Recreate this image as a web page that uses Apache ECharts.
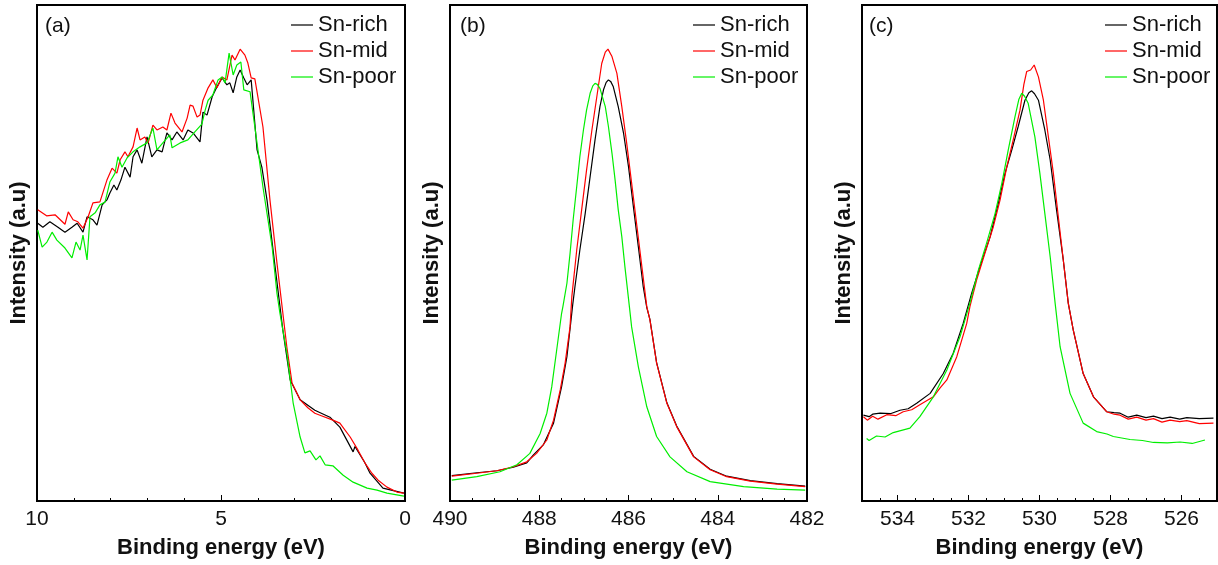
<!DOCTYPE html>
<html>
<head>
<meta charset="utf-8">
<script src="https://cdn.jsdelivr.net/npm/echarts@6/dist/echarts.min.js"></script>
<style>
html,body{margin:0;padding:0;background:#fff;}
#chart{width:1218px;height:565px;}
</style>
</head>
<body>
<div id="chart"></div>
<script>
// ---------- Data ----------
const seriesNames = ['Sn-rich', 'Sn-mid', 'Sn-poor'];
const panelLabels = ['(a)', '(b)', '(c)'];
const xAxisTitle = 'Binding energy (eV)';
const yAxisTitle = 'Intensity (a.u)';

// Panel (a): valence band, [binding energy eV, intensity a.u.]
const aSnRich = [[9.98,56.0],[9.84,55.2],[9.65,56.3],[9.43,55.2],[9.24,54.2],[9.05,55.2],[8.91,56.0],[8.75,54.2],[8.64,57.3],[8.48,56.7],[8.37,55.6],[8.23,59.7],[8.10,60.7],[8.02,62.1],[7.91,63.7],[7.83,62.7],[7.72,64.7],[7.61,67.3],[7.47,65.3],[7.39,69.4],[7.28,70.8],[7.15,68.1],[7.01,73.4],[6.88,69.4],[6.74,70.8],[6.60,70.4],[6.47,74.2],[6.33,72.8],[6.20,74.4],[6.03,72.8],[5.90,74.8],[5.76,74.2],[5.57,72.4],[5.49,78.4],[5.38,77.8],[5.24,81.5],[5.11,83.5],[4.97,85.3],[4.84,83.9],[4.76,84.3],[4.67,82.3],[4.57,85.5],[4.48,86.9],[4.38,85.3],[4.29,83.9],[4.18,84.9],[4.02,70.8],[3.89,67.3],[3.75,60.7],[3.53,47.2],[3.32,34.5],[3.12,24.4],[2.85,20.4],[2.45,18.3],[2.04,16.9],[1.77,14.9],[1.41,9.9],[1.36,11.0],[1.09,7.7],[0.95,5.6],[0.60,2.6],[0.03,1.6]];
const aSnMid = [[9.98,58.7],[9.74,57.5],[9.51,57.7],[9.24,55.8],[9.15,58.3],[9.02,56.7],[8.89,56.3],[8.75,55.0],[8.61,57.3],[8.48,60.1],[8.29,60.3],[8.10,64.7],[7.96,67.1],[7.83,66.1],[7.74,68.8],[7.61,70.4],[7.53,69.4],[7.39,71.4],[7.28,75.2],[7.20,72.8],[7.07,73.4],[6.98,72.2],[6.85,75.8],[6.74,74.8],[6.58,75.4],[6.47,74.8],[6.36,78.2],[6.25,76.2],[6.06,74.4],[5.92,77.2],[5.84,79.8],[5.76,79.6],[5.65,77.4],[5.57,77.8],[5.49,80.8],[5.35,83.3],[5.22,84.9],[5.11,83.3],[4.97,85.5],[4.84,84.9],[4.70,89.9],[4.62,88.9],[4.48,91.1],[4.35,89.9],[4.27,88.3],[4.18,85.3],[4.08,85.1],[3.86,75.4],[3.67,60.7],[3.48,48.0],[3.21,31.0],[3.07,23.8],[2.85,20.4],[2.64,18.8],[2.45,17.7],[2.31,17.3],[1.96,16.3],[1.77,15.7],[1.49,12.9],[1.28,10.3],[1.09,7.7],[0.90,5.6],[0.73,4.2],[0.49,2.8],[0.22,1.8],[0.03,1.6]];
const aSnPoor = [[9.98,54.6],[9.86,51.2],[9.73,52.2],[9.59,54.2],[9.46,52.6],[9.24,51.0],[9.05,49.0],[8.94,52.2],[8.83,50.6],[8.75,53.6],[8.64,48.6],[8.56,57.3],[8.42,58.1],[8.29,59.7],[8.15,60.3],[8.02,64.3],[7.88,66.1],[7.80,69.4],[7.69,67.3],[7.55,69.2],[7.39,70.4],[7.20,71.4],[7.01,72.2],[6.85,75.2],[6.74,70.8],[6.58,72.2],[6.39,73.8],[6.33,71.2],[6.11,72.2],[5.90,72.8],[5.71,74.4],[5.52,76.0],[5.43,78.8],[5.35,80.8],[5.22,81.9],[5.08,84.9],[4.97,85.5],[4.89,84.3],[4.78,90.3],[4.67,85.9],[4.57,87.9],[4.46,88.5],[4.38,82.9],[4.21,82.5],[4.08,75.4],[3.86,63.3],[3.61,51.2],[3.48,41.9],[3.40,37.9],[3.21,29.8],[3.04,19.8],[2.85,12.9],[2.72,9.7],[2.58,10.1],[2.42,8.3],[2.31,9.1],[2.17,7.3],[1.96,7.1],[1.68,5.2],[1.41,3.8],[1.03,2.6],[0.76,2.2],[0.49,1.6],[0.03,1.0]];

// Panel (b): Sn 3d5/2
const bSnRich = [[489.96,5.1],[489.40,5.7],[488.95,6.1],[488.58,6.8],[488.28,7.7],[488.13,9.3],[487.91,11.3],[487.68,15.7],[487.50,23.0],[487.38,29.1],[487.30,35.5],[487.25,39.6],[487.20,43.2],[487.09,50.6],[486.97,58.0],[486.86,65.4],[486.75,72.8],[486.64,79.5],[486.56,82.9],[486.50,84.4],[486.45,84.9],[486.40,84.6],[486.34,83.5],[486.23,79.5],[486.11,74.1],[486.00,67.4],[485.89,59.3],[485.78,51.3],[485.67,43.2],[485.59,39.0],[485.52,36.6],[485.37,27.9],[485.14,19.8],[484.92,15.1],[484.54,9.0],[484.17,6.4],[483.80,5.0],[483.27,4.1],[482.67,3.5],[482.04,3.0]];
const bSnMid = [[489.96,5.0],[489.40,5.6],[488.95,6.1],[488.58,6.9],[488.28,7.9],[488.06,9.6],[487.83,12.3],[487.68,16.3],[487.53,22.4],[487.42,27.8],[487.31,35.1],[487.27,41.2],[487.16,50.6],[487.05,58.7],[486.94,66.7],[486.82,74.8],[486.71,81.5],[486.60,88.2],[486.52,90.5],[486.46,91.1],[486.37,89.6],[486.26,86.2],[486.15,79.5],[486.04,72.1],[485.93,64.1],[485.81,55.3],[485.70,47.2],[485.59,39.2],[485.52,36.5],[485.37,27.8],[485.14,19.7],[484.92,15.0],[484.54,8.9],[484.17,6.3],[483.80,4.9],[483.27,4.0],[482.67,3.4],[482.04,2.9]];
const bSnPoor = [[489.96,4.2],[489.40,4.9],[488.88,5.9],[488.50,7.3],[488.21,9.6],[487.98,13.6],[487.83,17.7],[487.72,23.0],[487.61,30.4],[487.50,37.8],[487.47,39.2],[487.38,43.9],[487.31,49.9],[487.24,56.7],[487.16,63.4],[487.09,69.4],[487.01,74.8],[486.94,78.8],[486.86,82.2],[486.80,83.7],[486.75,84.2],[486.70,84.0],[486.64,83.2],[486.52,79.5],[486.45,75.5],[486.37,70.1],[486.30,64.7],[486.23,58.7],[486.15,53.3],[486.08,47.2],[485.98,39.2],[485.93,35.1],[485.78,27.1],[485.59,19.0],[485.37,13.0],[485.07,8.9],[484.69,5.9],[484.17,3.9],[483.42,2.9],[482.67,2.4],[482.04,2.2]];

// Panel (c): O 1s
const cSnRich = [[534.96,17.3],[534.80,17.0],[534.70,17.5],[534.49,17.7],[534.20,17.6],[533.93,18.3],[533.70,18.6],[533.46,19.7],[533.08,21.7],[532.71,25.7],[532.43,29.8],[532.15,35.8],[531.91,41.9],[531.68,47.2],[531.39,53.3],[531.16,60.0],[530.97,66.1],[530.78,70.8],[530.60,75.5],[530.41,80.8],[530.30,82.3],[530.22,82.7],[530.14,82.1],[530.03,80.8],[529.85,74.8],[529.70,68.8],[529.52,58.7],[529.33,48.6],[529.19,39.9],[529.05,34.5],[528.77,25.7],[528.48,21.0],[528.11,18.0],[527.90,17.8],[527.73,17.7],[527.50,16.9],[527.26,17.3],[527.00,16.8],[526.79,17.1],[526.55,16.6],[526.32,16.9],[526.05,16.5],[525.85,16.8],[525.50,16.6],[525.10,16.7]];
const cSnMid = [[534.96,17.0],[534.85,16.3],[534.70,17.1],[534.55,16.5],[534.30,17.4],[534.05,17.2],[533.84,18.0],[533.60,18.4],[533.37,19.4],[532.99,21.0],[532.80,22.8],[532.61,24.4],[532.33,29.1],[532.05,35.8],[531.96,39.2],[531.77,44.6],[531.54,49.9],[531.30,55.3],[531.11,60.7],[530.92,67.4],[530.74,72.8],[530.55,78.8],[530.44,84.0],[530.36,86.6],[530.25,86.9],[530.15,87.9],[530.03,85.5],[529.89,80.8],[529.75,73.4],[529.61,66.1],[529.47,57.3],[529.33,48.6],[529.19,39.9],[529.05,34.5],[528.77,25.7],[528.48,21.0],[528.11,18.0],[527.90,17.5],[527.73,17.3],[527.50,16.5],[527.26,16.9],[527.00,16.3],[526.79,16.6],[526.55,15.9],[526.32,16.3],[526.05,16.0],[525.85,16.2],[525.50,15.6],[525.10,15.7]];
const cSnPoor = [[534.87,12.6],[534.80,12.2],[534.59,13.1],[534.35,12.9],[534.12,13.8],[533.65,14.7],[533.37,17.0],[532.99,21.0],[532.61,26.4],[532.24,33.1],[531.96,39.9],[531.72,46.6],[531.49,52.0],[531.25,58.0],[531.06,64.1],[530.88,70.8],[530.69,77.5],[530.58,81.0],[530.50,82.2],[530.42,81.6],[530.32,80.2],[530.13,73.4],[529.99,66.1],[529.85,58.0],[529.70,49.3],[529.56,39.9],[529.42,31.1],[529.14,21.7],[528.77,15.7],[528.39,14.0],[528.10,13.5],[527.92,13.0],[527.45,12.4],[527.10,12.2],[526.79,11.8],[526.40,11.7],[526.04,11.9],[525.70,11.6],[525.34,12.3]];

// Axis tick labels
const aTickInterval = 5;
const bTickInterval = 2;
const cTickLabels = [526, 528, 530, 532, 534];
const cMinorTicks = [525.5, 526.5, 527, 527.5, 528.5, 529, 529.5, 530.5, 531, 531.5, 532.5, 533, 533.5, 534.5];

// ---------- Chart ----------
const FONT = "'Liberation Sans', Arial, Helvetica, sans-serif";
const colors = ['#000000', '#ff0000', '#00ee00'];
const gridDefs = [
  {left: 37, width: 368},
  {left: 450, width: 357},
  {left: 862, width: 355}
];
const legendLeft = [291, 693, 1105];
const titleLeft = [45, 460, 869];

const grids = gridDefs.map(g => ({
  left: g.left, top: 5, width: g.width, height: 496,
  show: true, borderColor: '#000', borderWidth: 2, backgroundColor: 'transparent'
}));

function baseX(gi, extra) {
  return Object.assign({
    gridIndex: gi, type: 'value', inverse: true,
    axisLine: {show: true, lineStyle: {color: '#000', width: 2}},
    axisTick: {show: true, inside: true, length: 6, lineStyle: {color: '#000', width: 1}},
    axisLabel: {fontSize: 21, color: '#111', margin: 8, fontFamily: FONT},
    splitLine: {show: false},
    name: xAxisTitle, nameLocation: 'middle', nameGap: 36,
    nameTextStyle: {fontSize: 22, fontWeight: 'bold', color: '#111', fontFamily: FONT}
  }, extra);
}

const xAxes = [
  baseX(0, {min: 0, max: 10, interval: aTickInterval,
    minorTick: {show: true, splitNumber: 5, length: 3, lineStyle: {color: '#000', width: 1}}}),
  baseX(1, {min: 482, max: 490, interval: bTickInterval,
    minorTick: {show: true, splitNumber: 4, length: 3, lineStyle: {color: '#000', width: 1}}}),
  baseX(2, {min: 525, max: 535,
    axisTick: {show: true, inside: true, length: 6, customValues: cTickLabels, lineStyle: {color: '#000', width: 1}},
    axisLabel: {fontSize: 21, color: '#111', margin: 8, fontFamily: FONT, customValues: cTickLabels}}),
  {gridIndex: 2, type: 'value', inverse: true, min: 525, max: 535, position: 'bottom',
    axisLine: {show: false}, axisLabel: {show: false}, splitLine: {show: false},
    axisTick: {show: true, inside: true, length: 3, customValues: cMinorTicks, lineStyle: {color: '#000', width: 1}}}
];

const yAxes = [0, 1, 2].map(gi => ({
  gridIndex: gi, type: 'value', min: 0, max: 100,
  axisLine: {show: false}, axisTick: {show: false}, axisLabel: {show: false}, splitLine: {show: false},
  name: yAxisTitle, nameLocation: 'middle', nameGap: 7, nameRotate: 90,
  nameTextStyle: {fontSize: 22, fontWeight: 'bold', color: '#111', fontFamily: FONT}
}));

const panelData = [
  [aSnRich, aSnMid, aSnPoor],
  [bSnRich, bSnMid, bSnPoor],
  [cSnRich, cSnMid, cSnPoor]
];
const series = [];
panelData.forEach((set, p) => {
  set.forEach((d, k) => {
    series.push({
      type: 'line', name: seriesNames[k], data: d,
      xAxisIndex: p, yAxisIndex: p,
      symbol: 'none', showSymbol: false, clip: true, smooth: false,
      lineStyle: {color: colors[k], width: 1.2},
      itemStyle: {color: colors[k]},
      emphasis: {disabled: true}
    });
  });
});

const legends = [0, 1, 2].map(i => ({
  data: seriesNames, orient: 'vertical', left: legendLeft[i], top: 14,
  itemWidth: 22, itemHeight: 12, itemGap: 4, padding: 0,
  selectedMode: false,
  icon: 'path://M0,0H22V1.2H0Z',
  textStyle: {fontSize: 22, color: '#111', fontFamily: FONT}
}));

const titles = [0, 1, 2].map(i => ({
  text: panelLabels[i], left: titleLeft[i], top: 16, padding: 0,
  textStyle: {fontSize: 21, fontWeight: 'normal', color: '#111', fontFamily: FONT}
}));

const chart = echarts.init(document.getElementById('chart'), null, {renderer: 'canvas'});
chart.setOption({
  animation: false,
  backgroundColor: '#fff',
  title: titles,
  legend: legends,
  grid: grids,
  xAxis: xAxes,
  yAxis: yAxes,
  series: series
});
</script>
</body>
</html>
